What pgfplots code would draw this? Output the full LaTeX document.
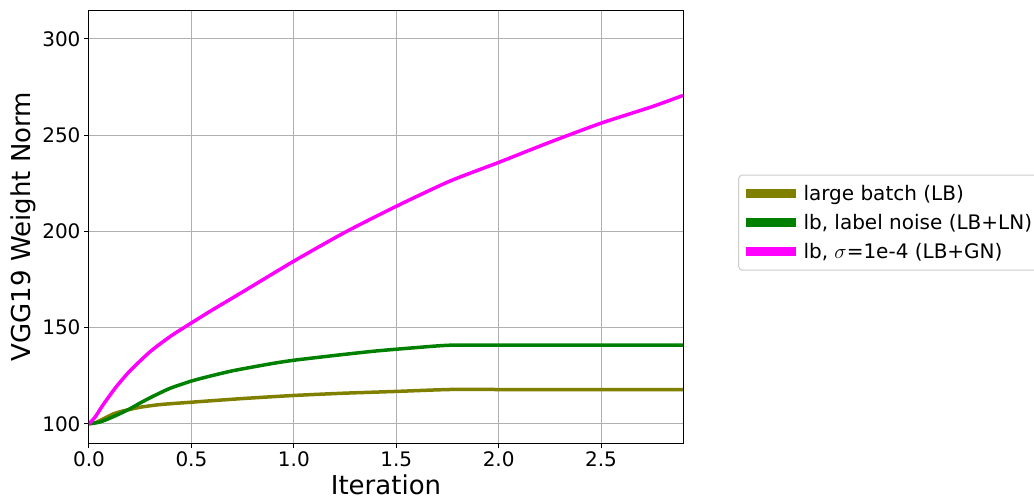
\documentclass[border=0pt]{standalone}
\usepackage{pgfplots}
\pgfplotsset{compat=1.18}
\usepackage{fontspec}
\setmainfont{DejaVu Sans}
\definecolor{mplolive}{HTML}{808000}
\definecolor{mplgreen}{HTML}{008000}
\definecolor{mplmagenta}{HTML}{FF00FF}
\definecolor{gridgray}{HTML}{B0B0B0}
\begin{document}
\begin{tikzpicture}
\begin{axis}[
    scale only axis,
    width=594pt, height=433pt,
    xmin=0, xmax=2.9, ymin=90, ymax=315,
    xtick={0,0.5,1,1.5,2,2.5},
    xticklabels={0.0,0.5,1.0,1.5,2.0,2.5},
    ytick={100,150,200,250,300},
    /pgf/number format/assume math mode=true,
    ticklabel style={font=\fontsize{20}{24}\selectfont},
    tick align=outside, tick pos=left,
    major tick length=5pt,
    tick style={black, line width=1pt},
    axis line style={line width=1pt},
    grid=major,
    major grid style={gridgray, line width=1pt},
    xlabel={Iteration},
    ylabel={VGG19 Weight Norm},
    label style={font=\fontsize{26}{30}\selectfont},
    xlabel style={at={(axis description cs:0.5,-0.120)}, anchor=base},
    ylabel style={at={(axis description cs:-0.111,0.5)}, anchor=center},
    legend image code/.code={\draw[#1, line width=9pt] (0pt,0pt) -- (50pt,0pt);},
    legend style={at={(rel axis cs:1.0926,0.509)}, anchor=west,
        draw=black!20, rounded corners=4pt, line width=1pt,
        font=\fontsize{20}{24}\selectfont,
        inner xsep=3pt, inner ysep=7pt, row sep=6.5pt,
        nodes={inner sep=3pt}},
    legend cell align=left,
    every axis plot/.append style={smooth, tension=0.4},
]
\addplot[mplolive, line width=3.5pt] coordinates {
(0,100) (0.03,100.5) (0.06,102) (0.09,103.6) (0.12,105.2) (0.15,106.2)
(0.18,107) (0.25,108.6) (0.35,110) (0.5,111.2) (0.75,113.1) (1.0,114.7)
(1.25,115.9) (1.5,116.8) (1.76,117.8) (2.0,117.8) (2.5,117.8) (2.9,117.8)
};
\addlegendentry{large batch (LB)}
\addplot[mplgreen, line width=3.5pt] coordinates {
(0,100) (0.05,100.8) (0.1,102.8) (0.15,105.2) (0.2,107.8) (0.25,110.8)
(0.3,113.6) (0.35,116.2) (0.4,118.6) (0.5,122.2) (0.6,125) (0.7,127.5)
(0.8,129.5) (0.9,131.4) (1.0,133) (1.2,135.5) (1.4,137.8) (1.6,139.6)
(1.76,140.8) (2.0,140.8) (2.5,140.8) (2.9,140.8)
};
\addlegendentry{lb, label noise (LB+LN)}
\addplot[mplmagenta, line width=3.5pt] coordinates {
(0,100) (0.03,103.5) (0.062,108.8) (0.1,114.5) (0.135,119.5) (0.2,127.5)
(0.3,137.6) (0.4,145.6) (0.5,152.4) (0.6,159) (0.75,168.5) (1.0,184.5)
(1.25,199.5) (1.5,213) (1.76,226) (2.0,235.8)
(2.25,246.3) (2.5,256.2) (2.75,264.8) (2.9,270.6)
};
\addlegendentry{lb, $\sigma$=1e-4 (LB+GN)}
\node[anchor=base east, font=\fontsize{20}{24}\selectfont]
    at (rel axis cs:1,0) [yshift=-48pt] {1e5};
\end{axis}
\pgfresetboundingbox
\path[use as bounding box] (-89pt,-56pt) rectangle (945pt,443pt);
\end{tikzpicture}
\end{document}
